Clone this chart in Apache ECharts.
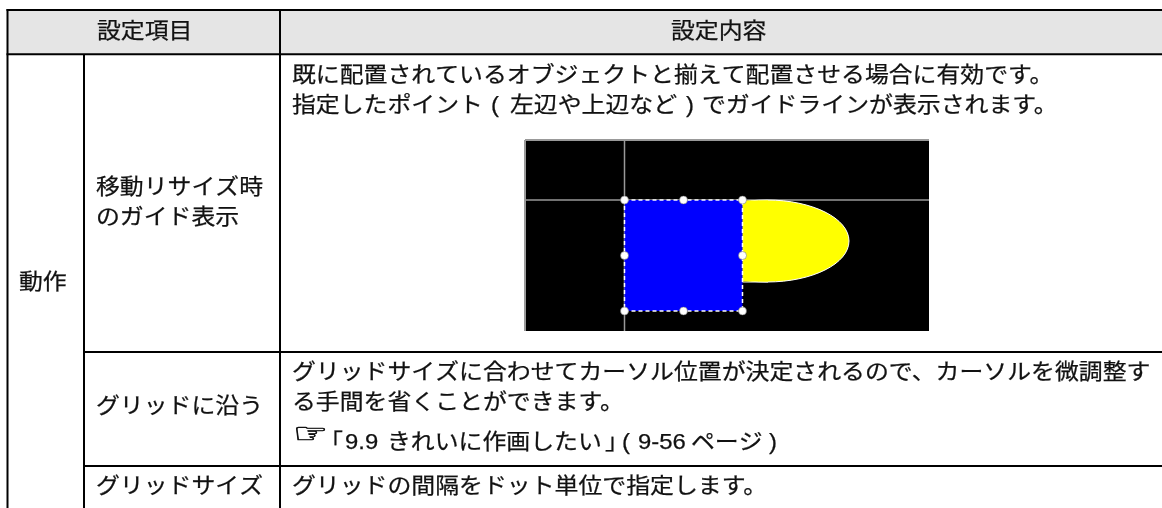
<!DOCTYPE html>
<html>
<head>
<meta charset="utf-8">
<style>
  html, body { margin: 0; padding: 0; background: #fff; }
  #chart { width: 1162px; height: 508px; }
</style>
<script src="https://cdn.jsdelivr.net/npm/echarts@6/dist/echarts.min.js"></script>
</head>
<body>
<div id="chart"></div>
<script>
// table texts
const headers = ['設定項目', '設定内容']
const groupLabel = '動作'
const guideLabel = ['移動リサイズ時', 'のガイド表示']
const snapLabel = 'グリッドに沿う'
const sizeLabel = 'グリッドサイズ'
const guideFirst = '既に配置されているオブジェクトと揃えて配置させる場合に有効です。'
const guideParts = ['指定したポイント', '(', '左辺や上辺など', ')', 'でガイドラインが表示されます。']
const snapText = [
  'グリッドサイズに合わせてカーソル位置が決定されるので、カーソルを微調整す',
  'る手間を省くことができます。',
]
const refIcon = '☞'
const refParts = ['｢', '9.9', 'きれいに作画したい', '｣', '(', '9-56', 'ページ', ')']
const sizeText = 'グリッドの間隔をドット単位で指定します。'

const font = "'Liberation Sans', 'Noto Sans CJK JP', sans-serif"
const ink = '#111'
const stretch = 1.085

const label = (str, x, y) => ({
  type: 'text',
  x,
  y,
  scaleX: stretch,
  z: 5,
  style: { text: str, fontFamily: font, fontSize: 22, fill: ink, stroke: ink, lineWidth: 0.25, textAlign: 'left', textVerticalAlign: 'middle' },
})

const rule = (x1, y1, x2, y2, color, width) => ({
  type: 'line',
  z: 3,
  shape: { x1, y1, x2, y2 },
  style: { stroke: color || '#000', lineWidth: width || 2 },
})

const handle = (x, y) => ({
  type: 'circle',
  z: 9,
  shape: { cx: x, cy: y, r: 4 },
  style: { fill: '#fff', stroke: '#666', lineWidth: 0.5 },
})

const tableLines = [
  rule(6.5, 10, 1162, 10),
  rule(6.5, 54.3, 1162, 54.3),
  rule(7.5, 9, 7.5, 508),
  rule(84, 54, 84, 508),
  rule(280, 9, 280, 508),
  rule(84, 352, 1162, 352),
  rule(84, 466, 1162, 466),
]

const screenshot = [
  { type: 'rect', z: 1, shape: { x: 525, y: 140, width: 404, height: 191 }, style: { fill: '#000' } },
  rule(525, 140, 929, 140, '#999', 2),
  rule(525, 140, 525, 331, '#999', 2),
  rule(624.5, 140, 624.5, 331, '#999', 1.5),
  rule(525, 200, 929, 200, '#999', 1.5),
  { type: 'ellipse', z: 5, shape: { cx: 767, cy: 241, rx: 82, ry: 41 }, style: { fill: '#ff0', stroke: '#fff', lineWidth: 1 } },
  { type: 'rect', z: 6, shape: { x: 742, y: 200.5, width: 26, height: 81 }, style: { fill: '#ff0' } },
  rule(742, 282, 768, 282, '#fff', 1),
  { type: 'rect', z: 7, shape: { x: 624.5, y: 200, width: 118, height: 111, r: 6 }, style: { fill: '#00f' } },
  { type: 'rect', z: 8, shape: { x: 624.5, y: 200, width: 118, height: 111 }, style: { fill: 'none', stroke: '#fff', lineWidth: 1.5, lineDash: [4, 3] } },
  handle(624.5, 200), handle(683.5, 200), handle(742.5, 200),
  handle(624.5, 255.5), handle(742.5, 255.5),
  handle(624.5, 311), handle(683.5, 311), handle(742.5, 311),
]

// x of each piece of the split lines
const guideX = [292, 491, 510, 686, 702]
const refX = [331, 345, 387, 605, 622, 638, 691, 769]

const texts = [
  label(headers[0], 97, 32),
  label(headers[1], 671, 32),
  label(groupLabel, 19, 283),
  label(guideLabel[0], 96, 188),
  label(guideLabel[1], 96, 218),
  label(snapLabel, 96, 407),
  label(sizeLabel, 96, 487),
  label(guideFirst, 292, 76),
  ...guideParts.map((str, i) => label(str, guideX[i], 105.5)),
  label(snapText[0], 292, 373),
  label(snapText[1], 292, 403),
  {
    type: 'text', x: 293, y: 436, z: 5, scaleX: 1.4,
    style: { text: refIcon, fontFamily: "'DejaVu Sans'", fontSize: 28, fill: ink, stroke: ink, lineWidth: 0.6, textVerticalAlign: 'middle' },
  },
  ...refParts.map((str, i) => label(str, refX[i], 443)),
  label(sizeText, 292, 487),
]

const chart = echarts.init(document.getElementById('chart'), null, { renderer: 'canvas' })
chart.setOption({
  animation: false,
  backgroundColor: '#fff',
  graphic: {
    elements: [
      { type: 'rect', z: 0, shape: { x: 7, y: 10, width: 1155, height: 44 }, style: { fill: '#e5e5e5' } },
      ...tableLines,
      ...screenshot,
      ...texts,
    ],
  },
})
</script>
</body>
</html>
